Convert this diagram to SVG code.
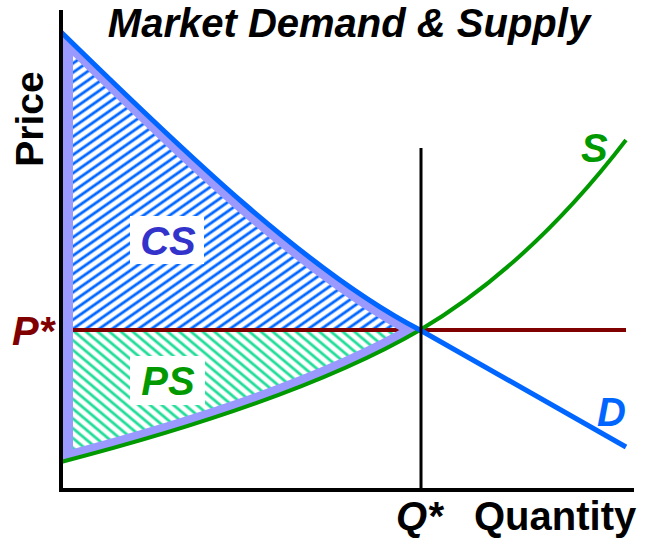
<svg xmlns="http://www.w3.org/2000/svg" width="648" height="543" viewBox="0 0 648 543">
  <style>
    .lbl { font-family: "Liberation Sans", Arial, sans-serif; font-weight: bold; font-size: 40px; }
    .it { font-style: italic; }
    .axis { stroke: #000; stroke-width: 4; fill: none; }
  </style>
  <defs>
    <pattern id="hatchCS" patternUnits="userSpaceOnUse" width="7.5" height="7.5" patternTransform="rotate(-35)">
      <rect width="7.5" height="7.5" fill="#fff"/>
      <line x1="0" y1="3.75" x2="7.5" y2="3.75" stroke="#0066ff" stroke-width="2.8"/>
    </pattern>
    <pattern id="hatchPS" patternUnits="userSpaceOnUse" width="7.5" height="7.5" patternTransform="rotate(40)">
      <rect width="7.5" height="7.5" fill="#fff"/>
      <line x1="0" y1="3.75" x2="7.5" y2="3.75" stroke="#22dd99" stroke-width="2.8"/>
    </pattern>
    <clipPath id="surplusClip">
      <path d="M63,32 C160,128 300,268 420,330 Q300,400 63,462 Z"/>
    </clipPath>
  </defs>
  <rect width="648" height="543" fill="#fff"/>

  <g id="title">
    <text class="lbl it" x="349" y="37" text-anchor="middle">Market Demand &amp; Supply</text>
  </g>

  <g id="cs-area">
    <path d="M61,32 C160,128 300,268 420,330 L61,330 Z" fill="url(#hatchCS)"/>
  </g>
  <g id="ps-area">
    <path d="M61,330 L420,330 Q300,400 61,462 Z" fill="url(#hatchPS)"/>
  </g>

  <g id="connectors">
    <line id="p-star-line" x1="64" y1="330" x2="626" y2="330" stroke="#800000" stroke-width="4"/>
    <path id="surplus-outline" d="M63,32 C160,128 300,268 420,330 Q300,400 63,462 Z" fill="none" stroke="#9999ff" stroke-width="20" clip-path="url(#surplusClip)"/>
    <path id="supply" d="M61,462 Q300,400 420,330 Q530,265 626,140" fill="none" stroke="#009900" stroke-width="4"/>
    <path id="demand" d="M61,32 C160,128 300,268 420,330 L626,447" fill="none" stroke="#0066ff" stroke-width="5"/>
    <line id="q-star-line" x1="421" y1="148" x2="421" y2="490" stroke="#000" stroke-width="3"/>
    <path id="axes" class="axis" d="M61,10 L61,492 M59,490 L634,490"/>
  </g>

  <g id="cs-label">
    <rect x="130" y="216" width="74" height="48" fill="#fff"/>
    <text class="lbl it" x="168" y="255" text-anchor="middle" fill="#3333cc">CS</text>
  </g>
  <g id="ps-label">
    <rect x="130" y="356" width="75" height="49" fill="#fff"/>
    <text class="lbl it" x="168" y="395" text-anchor="middle" fill="#009900">PS</text>
  </g>

  <g id="s-label"><text class="lbl it" x="581" y="162" fill="#009900">S</text></g>
  <g id="d-label"><text class="lbl it" x="597" y="426" fill="#0066ff">D</text></g>
  <g id="pstar-label"><text class="lbl it" x="12" y="345" fill="#800000">P*</text></g>
  <g id="qstar-label"><text class="lbl it" x="396" y="530">Q*</text></g>
  <g id="quantity-label"><text class="lbl" x="474" y="530">Quantity</text></g>
  <g id="price-label"><text class="lbl" transform="translate(43,119) rotate(-90)" text-anchor="middle" style="font-size:39px">Price</text></g>
</svg>
